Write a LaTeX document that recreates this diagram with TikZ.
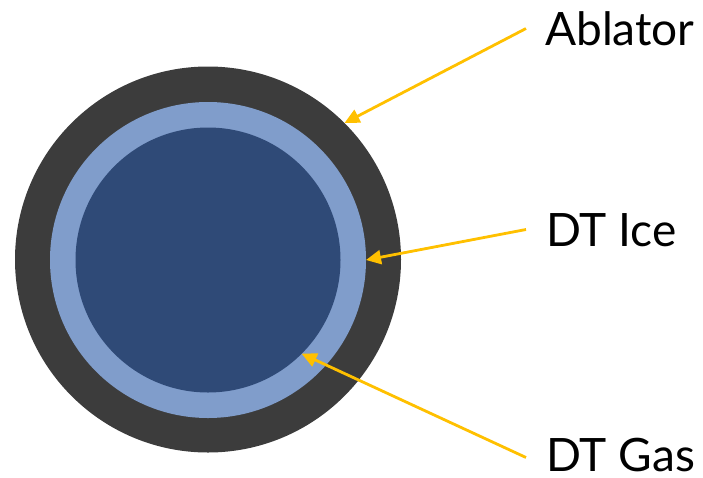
\documentclass[tikz,border=0pt]{standalone}
\usepackage{fontspec}
\setmainfont{Lato}
\usetikzlibrary{arrows.meta}
\definecolor{ablcol}{HTML}{3C3C3C}
\definecolor{icecol}{HTML}{809DCB}
\definecolor{gascol}{HTML}{2F4A77}
\definecolor{arrcol}{HTML}{FFC000}
\tikzset{
  layer/.style={circle, inner sep=0pt, outer sep=0pt, draw=none},
  lbl/.style={anchor=base west, inner sep=0pt, font=\fontsize{46}{55}\selectfont},
  arr/.style={draw=arrcol, line width=2.8pt, -{Triangle[length=15pt,width=14pt]}}
}
\begin{document}
\begin{tikzpicture}[x=1pt,y=-1pt]
\useasboundingbox (0,0) rectangle (703,477);
\node[layer, fill=ablcol, minimum size=386pt] (abl) at (208,259.5) {};
\node[layer, fill=icecol, minimum size=316pt] (ice) at (208,260) {};
\node[layer, fill=gascol, minimum size=265pt] (gas) at (208,260) {};
\node[lbl] (tabl) at (545,45) {Ablator};
\node[lbl] (tice) at (546,246) {DT Ice};
\node[lbl] (tgas) at (546,471) {DT Gas};
\coordinate (sabl) at (526,28.5);
\coordinate (sice) at (526,229.5);
\coordinate (sgas) at (526,457.5);
\draw[arr] (sabl) -- (abl.45);
\draw[arr] (sice) -- (ice.0);
\draw[arr] (sgas) -- (gas.-45);
\end{tikzpicture}
\end{document}
